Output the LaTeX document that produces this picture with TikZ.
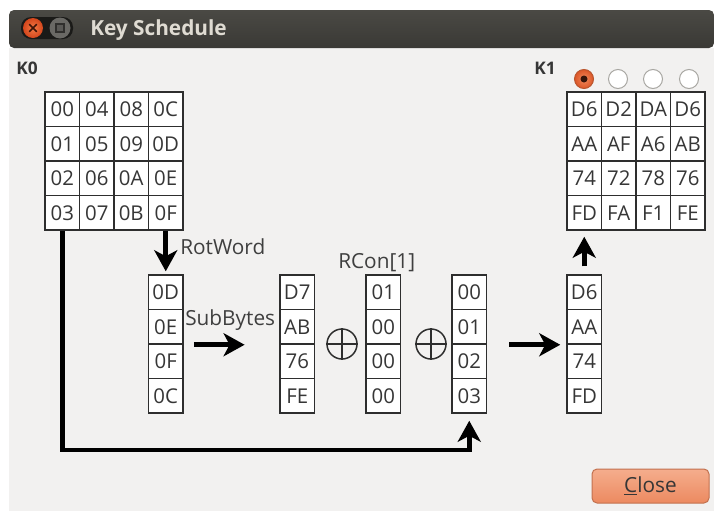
\documentclass[tikz,border=0pt]{standalone}
\usepackage{fontspec}
\setmainfont{Open Sans}
\usetikzlibrary{arrows.meta}
\newlength\upx
\setlength\upx{0.75pt}
\definecolor{winbg}{HTML}{F2F1F0}
\definecolor{barTop}{HTML}{4A4944}
\definecolor{barBot}{HTML}{3A3935}
\definecolor{titletext}{HTML}{DFDBD2}
\definecolor{celltext}{HTML}{363636}
\definecolor{cellline}{HTML}{2E2E2E}
\definecolor{labeltext}{HTML}{3F3F3F}
\definecolor{orangeA}{HTML}{F5AD8D}
\definecolor{orangeB}{HTML}{EC8A60}
\definecolor{orangeEdge}{HTML}{C2714F}
\definecolor{radioA}{HTML}{F08A5D}
\definecolor{radioB}{HTML}{DC5627}
\definecolor{radioEdge}{HTML}{B9552E}
\definecolor{radioGrey}{HTML}{A8A7A2}
\definecolor{winRedA}{HTML}{F37A45}
\definecolor{winRedB}{HTML}{D4461C}
\definecolor{winGrey}{HTML}{6A6965}
\newcommand\cellfont{\fontsize{15.3}{18}\selectfont}
\newcommand\lblfont{\fontsize{15.6}{18}\selectfont}
\newcommand\keyfont{\fontsize{13}{15}\selectfont\bfseries}
\begin{document}
\begin{tikzpicture}[x=0.75pt,y=-0.75pt,
  cell/.style={draw=cellline, line width=1.5\upx, fill=white, inner sep=0pt,
    minimum width=34.5\upx, minimum height=34.5\upx, font=\cellfont, text=celltext},
  bigarrow/.style={line width=3.4pt, black,
    -{Stealth[length=15.75pt, width=17.25pt, inset=4.5pt]}},
  lbl/.style={anchor=base west, inner sep=0pt, font=\lblfont, text=labeltext},
  keylbl/.style={anchor=base west, inner sep=0pt, font=\keyfont, text=celltext},
  xorsym/.style={circle, draw=cellline, line width=1.5\upx, minimum size=30\upx, inner sep=0pt},
  radio/.style={circle, minimum size=19\upx, inner sep=0pt, line width=1\upx},
]
\useasboundingbox (0,0) rectangle (714,511);
\fill[white] (0,0) rectangle (714,511);

% window body and title bar
\fill[winbg] (9,48) rectangle (714,511);
\shade[top color=barTop, bottom color=barBot, rounded corners=3.75pt]
  (9,48) -- (9,10) -- (714,10) -- (714,48) -- cycle;
\fill[black!55!barBot, rounded corners=7.5pt] (21,17) rectangle (73,39);
\shade[inner color=winRedA, outer color=winRedB] (33,28) circle (10);
\draw[black!70!winRedB, line width=1.2pt, line cap=round] (29.5,24.5) -- (36.5,31.5) (29.5,31.5) -- (36.5,24.5);
\fill[winGrey] (60,28) circle (10.5);
\draw[black!55!winGrey, line width=1.2pt, fill=black!15!winGrey] (56,24) rectangle (64,32);
\node[anchor=base west, inner sep=0pt, text=titletext, font=\fontsize{15.6}{18}\selectfont\bfseries] (title) at (90,35) {Key Schedule};

% labels of the two round keys
\node[keylbl] (k0lbl) at (16,74) {K0};
\node[keylbl] (k1lbl) at (534,74) {K1};

% round key K0
\foreach \v [count=\i from 0] in {00,04,08,0C,01,05,09,0D,02,06,0A,0E,03,07,0B,0F}{
  \pgfmathtruncatemacro\r{\i/4}
  \pgfmathtruncatemacro\c{mod(\i,4)}
  \node[cell] (k0-\r\c) at (62.25+34.5*\c, 109.25+34.5*\r) {\v};
}
% round key K1
\foreach \v [count=\i from 0] in {D6,D2,DA,D6,AA,AF,A6,AB,74,72,78,76,FD,FA,F1,FE}{
  \pgfmathtruncatemacro\r{\i/4}
  \pgfmathtruncatemacro\c{mod(\i,4)}
  \node[cell] (k1-\r\c) at (584.25+34.5*\c, 109.25+34.5*\r) {\v};
}

% word selector
\node[radio, draw=radioEdge, inner color=radioA, outer color=radioB] (rb0) at (584,79) {};
\fill[black!75!radioB] (rb0.center) circle (3.5);
\node[radio, draw=radioGrey, fill=white] (rb1) at (618,79) {};
\node[radio, draw=radioGrey, fill=white] (rb2) at (653,79) {};
\node[radio, draw=radioGrey, fill=white] (rb3) at (689,79) {};

% word columns
\foreach \col/\x/\vals in {w1/165.75/{0D,0E,0F,0C}, w2/297.25/{D7,AB,76,FE},
    w3/383.25/{01,00,00,00}, w4/469.25/{00,01,02,03}, w5/584.25/{D6,AA,74,FD}}{
  \foreach \v [count=\j from 0] in \vals{
    \node[cell] (\col-\j) at (\x, 292.25+34.5*\j) {\v};
  }
}

% xor symbols
\foreach \n/\x in {x1/342, x2/431}{
  \node[xorsym] (\n) at (\x,344) {};
  \draw[cellline, line width=1.1pt] (\n.north) -- (\n.south) (\n.west) -- (\n.east);
}

% step labels
\node[lbl] (rotlbl) at (180,254) {RotWord};
\node[lbl] (sublbl) at (185,325) {SubBytes};
\node[lbl] (rconlbl) at (338,268) {RCon[1]};

% arrows
\draw[bigarrow, shorten >=2.25pt] (k0-33.south) -- (w1-0.north);
\draw[bigarrow, shorten <=7.5pt, shorten >=26pt] (w1-1.south east) -- (w2-1.south west);
\draw[bigarrow, shorten <=16.5pt, shorten >=4.5pt] (w4-1.south east) -- (w5-1.south west);
\draw[bigarrow, shorten <=6pt, shorten >=4.5pt] (w5-0.north) -- (k1-30.south);
\coordinate (turn) at (62.25,450);
\draw[bigarrow, shorten >=5.25pt] (k0-30.south) -- (turn) -| (w4-3.south);

% close button
\node[draw=orangeEdge, line width=0.75pt, rounded corners=3.75pt, top color=orangeA,
  bottom color=orangeB, minimum width=117\upx, minimum height=34\upx, inner sep=0pt,
  font=\lblfont, text=celltext] (closebtn) at (650.5,486) {\underline{C}lose};
\end{tikzpicture}
\end{document}
